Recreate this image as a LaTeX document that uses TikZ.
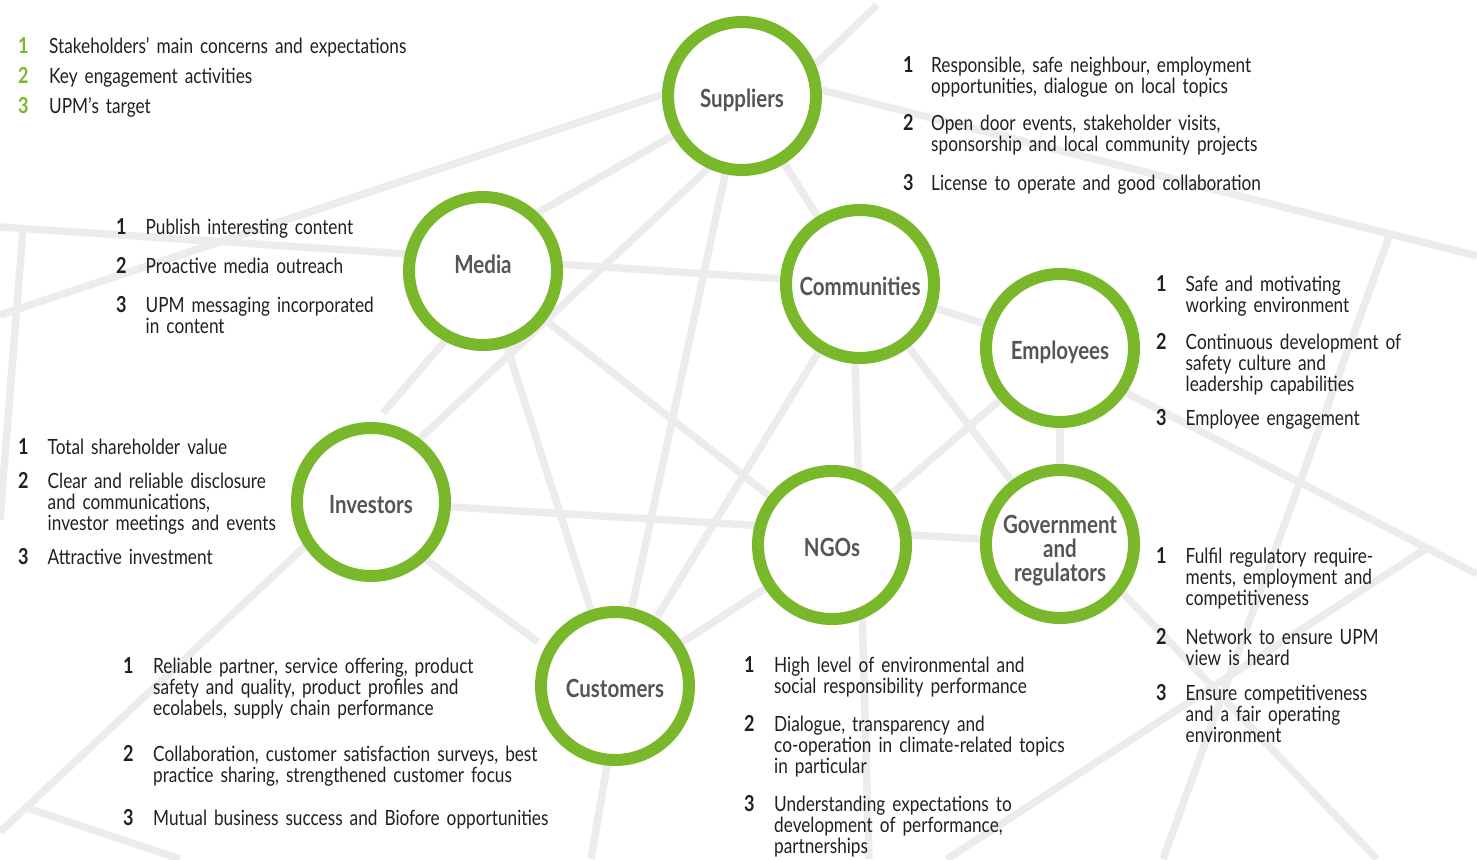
\documentclass[tikz,border=0pt]{standalone}
\usepackage{fontspec}
\setmainfont{Lato}[FakeStretch=0.82]
\usepackage{xcolor}
\usepackage{tikz}
\usetikzlibrary{backgrounds}

\definecolor{upmgreen}{RGB}{120,184,42}
\definecolor{webgray}{RGB}{236,236,236}
\definecolor{labelgray}{RGB}{85,85,87}
\definecolor{bodyblack}{RGB}{35,31,32}

\begin{document}
\begin{tikzpicture}[x=1pt, y=-1pt,
  every node/.style={font=\fontsize{21}{21}\selectfont, text=bodyblack},
  stake/.style={circle, draw=upmgreen, line width=12pt, fill=white, minimum size=148pt,
    inner sep=0pt, text height=24.5pt, text depth=2.5pt, text=labelgray,
    font=\fontsize{25}{24}\selectfont\bfseries},
  stakelabel/.style={align=center, inner sep=0pt, text=labelgray,
    font=\fontsize{25}{24}\selectfont\bfseries},
  num/.style={anchor=base west, inner sep=0pt, font=\fontsize{22}{22}\selectfont\bfseries},
  txt/.style={anchor=base west, inner sep=0pt, text width=420pt, align=left},
  web/.style={draw=webgray, line width=7.5pt}]
  \useasboundingbox (0,0) rectangle (1477,859);

  % stakeholder circles
  \node[stake] (sup) at (742,96) {Suppliers};
  \node[stake, text height=14pt, text depth=10pt] (media) at (483,271) {Media};
  \node[stake] (comm) at (860,284) {Communities};
  \node[stake] (empl) at (1060,348) {Employees};
  \node[stake] (inv) at (371,502) {Investors};
  \node[stake] (ngo) at (832,545) {NGOs};
  \node[stake] (gov) at (1060,544) {};
  \node[stakelabel] (govlabel) at ([yshift=-7pt]gov.center) {Government\\and\\regulators};
  \node[stake] (cust) at (615,686) {Customers};

  % grey web behind the circles
  \begin{scope}[on background layer]
    \coordinate (wA) at (0,227);
    \coordinate (wB) at (0,315);
    \coordinate (wBs) at (730,72);
    \coordinate (wC1) at (23,229);
    \coordinate (wC2) at (0,520);
    \coordinate (wD) at (483,244);
    \coordinate (wE1) at (746,133);
    \coordinate (wE2) at (0,832);
    \coordinate (wE3) at (24,807);
    \coordinate (wE4) at (180,859);
    \coordinate (wF1) at (480,300);
    \coordinate (wF2) at (383,413);
    \coordinate (wL1) at (877,5);
    \coordinate (wL2) at (785,94);
    \coordinate (wM1) at (742,70);
    \coordinate (wM2) at (1477,256);
    \coordinate (wN1) at (1390,234);
    \coordinate (wN2) at (1163,859);
    \coordinate (wP1) at (1059,358);
    \coordinate (wP2) at (1477,574);
    \coordinate (wQ1) at (1427,548);
    \coordinate (wQ2) at (947,859);
    \coordinate (wV1) at (371,519);
    \coordinate (wV2) at (538,642);
    \coordinate (wX1) at (853,284);
    \coordinate (wX2) at (869,859);
    \coordinate (wY1) at (620,690);
    \coordinate (wY2) at (591,859);
    \coordinate (wZ1) at (1077,545);
    \coordinate (wZ2) at (1377,859);
    \foreach \a/\b in {wA/comm.center, wB/wBs, wC1/wC2, sup.center/wD, wE1/wE2, wE3/wE4,
      wF1/wF2, media.center/cust.center, media.center/ngo.center, sup.center/cust.center,
      comm.center/cust.center, sup.center/comm.center, wL1/wL2, wM1/wM2, wN1/wN2,
      comm.center/empl.center, wP1/wP2, wQ1/wQ2, comm.center/gov.center,
      empl.center/ngo.center, empl.center/gov.center, inv.center/gov.center, wV1/wV2,
      cust.center/ngo.center, wX1/wX2, wY1/wY2, wZ1/wZ2}
      \draw[web] (\a) -- (\b);
  \end{scope}

  % legend
  \foreach \n/\y/\t in {1/53/{Stakeholders’ main concerns and expectations},
    2/83/{Key engagement activities}, 3/113/{UPM’s target}} {
    \node[num, text=upmgreen] (legnum\n) at (18,\y) {\n};
    \node[txt] (leg\n) at (49,\y) {\t};
  }

  % suppliers
  \foreach \n/\y/\t in {1/72.7/{Responsible, safe neighbour, employment\\opportunities, dialogue on local topics},
    2/130/{Open door events, stakeholder visits,\\sponsorship and local community projects},
    3/190.7/{License to operate and good collaboration}} {
    \node[num] (supnum\n) at (903,\y) {\n};
    \node[txt] (suptxt\n) at (931,\y) {\t};
  }

  % media
  \foreach \n/\y/\t in {1/234.5/{Publish interesting content},
    2/273/{Proactive media outreach},
    3/312/{UPM messaging incorporated\\in content}} {
    \node[num] (mednum\n) at (116,\y) {\n};
    \node[txt] (medtxt\n) at (145.5,\y) {\t};
  }

  % employees
  \foreach \n/\y/\t in {1/291.6/{Safe and motivating\\working environment},
    2/349/{Continuous development of\\safety culture and\\leadership capabilities},
    3/425/{Employee engagement}} {
    \node[num] (empnum\n) at (1156,\y) {\n};
    \node[txt] (emptxt\n) at (1185.5,\y) {\t};
  }

  % investors
  \foreach \n/\y/\t in {1/454/{Total shareholder value},
    2/488/{Clear and reliable disclosure\\and communications,\\investor meetings and events},
    3/564/{Attractive investment}} {
    \node[num] (invnum\n) at (18,\y) {\n};
    \node[txt] (invtxt\n) at (47.5,\y) {\t};
  }

  % government and regulators
  \foreach \n/\y/\t in {1/563.6/{Fulfil regulatory require-\\ments, employment and\\competitiveness},
    2/644/{Network to ensure UPM\\view is heard},
    3/700/{Ensure competitiveness\\and a fair operating\\environment}} {
    \node[num] (govnum\n) at (1156,\y) {\n};
    \node[txt] (govtxt\n) at (1185.5,\y) {\t};
  }

  % customers
  \foreach \n/\y/\t in {1/673/{Reliable partner, service offering, product\\safety and quality, product profiles and\\ecolabels, supply chain performance},
    2/761/{Collaboration, customer satisfaction surveys, best\\practice sharing, strengthened customer focus},
    3/825/{Mutual business success and Biofore opportunities}} {
    \node[num] (cusnum\n) at (123,\y) {\n};
    \node[txt] (custxt\n) at (153,\y) {\t};
  }

  % NGOs
  \foreach \n/\y/\t in {1/672/{High level of environmental and\\social responsibility performance},
    2/731/{Dialogue, transparency and\\co-operation in climate-related topics\\in particular},
    3/811/{Understanding expectations to\\development of performance,\\partnerships}} {
    \node[num] (ngonum\n) at (744,\y) {\n};
    \node[txt] (ngotxt\n) at (774,\y) {\t};
  }
\end{tikzpicture}
\end{document}
